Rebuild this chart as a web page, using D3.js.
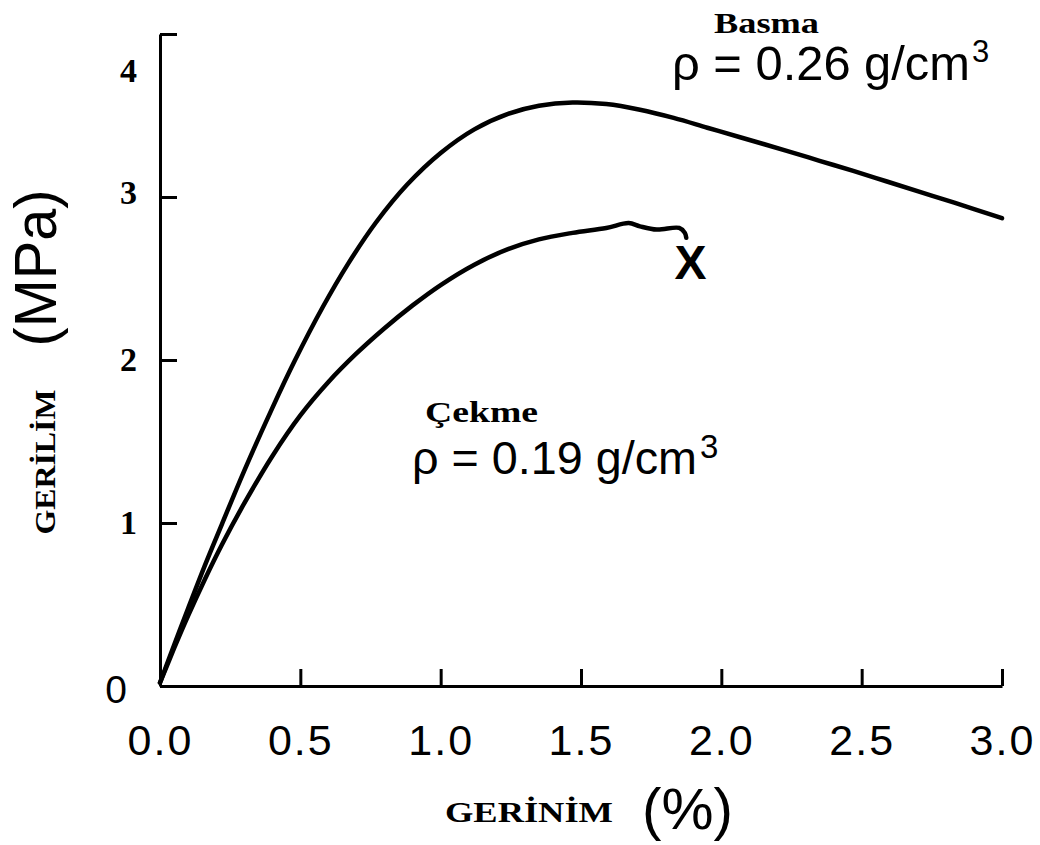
<!DOCTYPE html>
<html>
<head>
<meta charset="utf-8">
<script src="https://cdn.jsdelivr.net/npm/d3@7"></script>
<style>
  body { margin: 0; background: #fff; }
  svg { display: block; }
</style>
</head>
<body>
<div id="chart"></div>
<script>
// Basma (compression), rho = 0.26
const strainComp = [0, 0.05, 0.10, 0.16, 0.22, 0.30, 0.40, 0.48, 0.58, 0.67, 0.77, 0.88, 1.00, 1.12, 1.24, 1.35, 1.47, 1.59, 1.71, 1.83, 1.95, 2.07, 2.23, 2.35, 2.47, 2.59, 2.71, 2.83, 3.00];
const stressComp = [0.02, 0.25, 0.475, 0.74, 0.99, 1.32, 1.705, 1.995, 2.325, 2.59, 2.845, 3.075, 3.27, 3.415, 3.51, 3.56, 3.58, 3.57, 3.535, 3.485, 3.425, 3.365, 3.285, 3.222, 3.16, 3.095, 3.03, 2.965, 2.87];

// Çekme (tension), rho = 0.19
const strainTens = [0, 0.05, 0.10, 0.16, 0.22, 0.30, 0.40, 0.50, 0.60, 0.70, 0.80, 0.90, 1.00, 1.12, 1.24, 1.35, 1.47, 1.59, 1.67, 1.71, 1.77, 1.85, 1.87, 1.875];
const stressTens = [0.02, 0.23, 0.43, 0.655, 0.865, 1.12, 1.41, 1.66, 1.865, 2.04, 2.195, 2.335, 2.46, 2.585, 2.68, 2.74, 2.78, 2.81, 2.84, 2.82, 2.80, 2.81, 2.78, 2.75];

// break point of tension sample
const breakStrain = 1.89, breakStress = 2.60;

const xTicks = [0, 0.5, 1.0, 1.5, 2.0, 2.5, 3.0];
const yTicks = [0, 1, 2, 3, 4];

const W = 1040, H = 845;
const sans = '"Liberation Sans", Arial, Helvetica, sans-serif';
const serif = '"Liberation Serif", "Times New Roman", serif';

const svg = d3.select('#chart').append('svg')
    .attr('width', W).attr('height', H);

const x = d3.scaleLinear().domain([0, 3]).range([160, 1002]);
const y = d3.scaleLinear().domain([0, 4]).range([686, 34]);

// x axis
const gx = svg.append('g')
    .attr('transform', 'translate(0,' + y(0) + ')')
    .call(d3.axisBottom(x).tickValues(xTicks).tickSize(-17).tickSizeOuter(0).tickFormat(d3.format('.1f')));
gx.select('.domain').attr('stroke-width', 3);
gx.selectAll('.tick line').attr('stroke-width', 3);
gx.selectAll('.tick text')
    .attr('dy', null)
    .attr('y', 69)
    .attr('font-family', sans)
    .attr('font-size', 43)
    .attr('letter-spacing', 2)
    .attr('fill', '#000');

// y axis
const gy = svg.append('g')
    .attr('transform', 'translate(' + x(0) + ',0)')
    .call(d3.axisLeft(y).tickValues(yTicks).tickSize(-17).tickSizeOuter(0).tickFormat(d3.format('d')));
gy.select('.domain').attr('stroke-width', 3);
gy.selectAll('.tick line').attr('stroke-width', 3);
gy.selectAll('.tick text')
    .attr('x', -23)
    .attr('font-family', serif)
    .attr('font-weight', 'bold')
    .attr('font-size', 34)
    .attr('fill', '#000')
    .attr('dy', d => d == 4 ? '1.4em' : (d == 3 ? '0.2em' : '0.32em'));
gy.selectAll('.tick text').filter(d => d == 0)
    .attr('x', -33)
    .attr('dy', '0.43em')
    .attr('font-family', sans)
    .attr('font-weight', 'normal')
    .attr('font-size', 39);

// curves
const line = d3.line()
    .x(d => x(d[0]))
    .y(d => y(d[1]))
    .curve(d3.curveCatmullRom.alpha(0.5));

svg.append('path')
    .datum(d3.zip(strainComp, stressComp))
    .attr('fill', 'none')
    .attr('stroke', '#000')
    .attr('stroke-width', 4.5)
    .attr('stroke-linecap', 'round')
    .attr('d', line);

svg.append('path')
    .datum(d3.zip(strainTens, stressTens))
    .attr('fill', 'none')
    .attr('stroke', '#000')
    .attr('stroke-width', 4.5)
    .attr('stroke-linecap', 'round')
    .attr('d', line);

svg.append('text')
    .attr('x', x(breakStrain))
    .attr('y', y(breakStress))
    .attr('dy', '0.36em')
    .attr('text-anchor', 'middle')
    .attr('font-family', sans)
    .attr('font-weight', 'bold')
    .attr('font-size', 48)
    .text('X');

// annotations
svg.append('text')
    .attr('x', 714).attr('y', 33)
    .attr('font-family', serif).attr('font-weight', 'bold').attr('font-size', 29)
    .attr('textLength', 105).attr('lengthAdjust', 'spacingAndGlyphs')
    .text('Basma');

svg.append('text')
    .attr('x', 672).attr('y', 80)
    .attr('font-family', sans).attr('font-size', 49)
    .attr('textLength', 298).attr('lengthAdjust', 'spacingAndGlyphs')
    .text('ρ = 0.26 g/cm');
svg.append('text')
    .attr('x', 972).attr('y', 62)
    .attr('font-family', sans).attr('font-size', 31)
    .text('3');

svg.append('text')
    .attr('x', 425).attr('y', 422)
    .attr('font-family', serif).attr('font-weight', 'bold').attr('font-size', 29)
    .attr('textLength', 113).attr('lengthAdjust', 'spacingAndGlyphs')
    .text('Çekme');

svg.append('text')
    .attr('x', 412).attr('y', 474)
    .attr('font-family', sans).attr('font-size', 47)
    .attr('textLength', 285).attr('lengthAdjust', 'spacingAndGlyphs')
    .text('ρ = 0.19 g/cm');
svg.append('text')
    .attr('x', 700).attr('y', 458)
    .attr('font-family', sans).attr('font-size', 33)
    .text('3');

// axis titles
svg.append('text')
    .attr('x', 445).attr('y', 822)
    .attr('font-family', serif).attr('font-weight', 'bold').attr('font-size', 30)
    .attr('textLength', 168).attr('lengthAdjust', 'spacingAndGlyphs')
    .text('GERİNİM');

svg.append('text')
    .attr('x', 642).attr('y', 829)
    .attr('font-family', sans).attr('font-size', 58)
    .attr('textLength', 91).attr('lengthAdjust', 'spacingAndGlyphs')
    .text('(%)');

svg.append('text')
    .attr('transform', 'translate(55,462) rotate(-90)')
    .attr('text-anchor', 'middle')
    .attr('font-family', serif).attr('font-weight', 'bold').attr('font-size', 30)
    .attr('textLength', 145).attr('lengthAdjust', 'spacingAndGlyphs')
    .text('GERİLİM');

svg.append('text')
    .attr('transform', 'translate(56,268) rotate(-90)')
    .attr('text-anchor', 'middle')
    .attr('font-family', sans).attr('font-size', 60)
    .attr('textLength', 157).attr('lengthAdjust', 'spacingAndGlyphs')
    .text('(MPa)');
</script>
</body>
</html>
